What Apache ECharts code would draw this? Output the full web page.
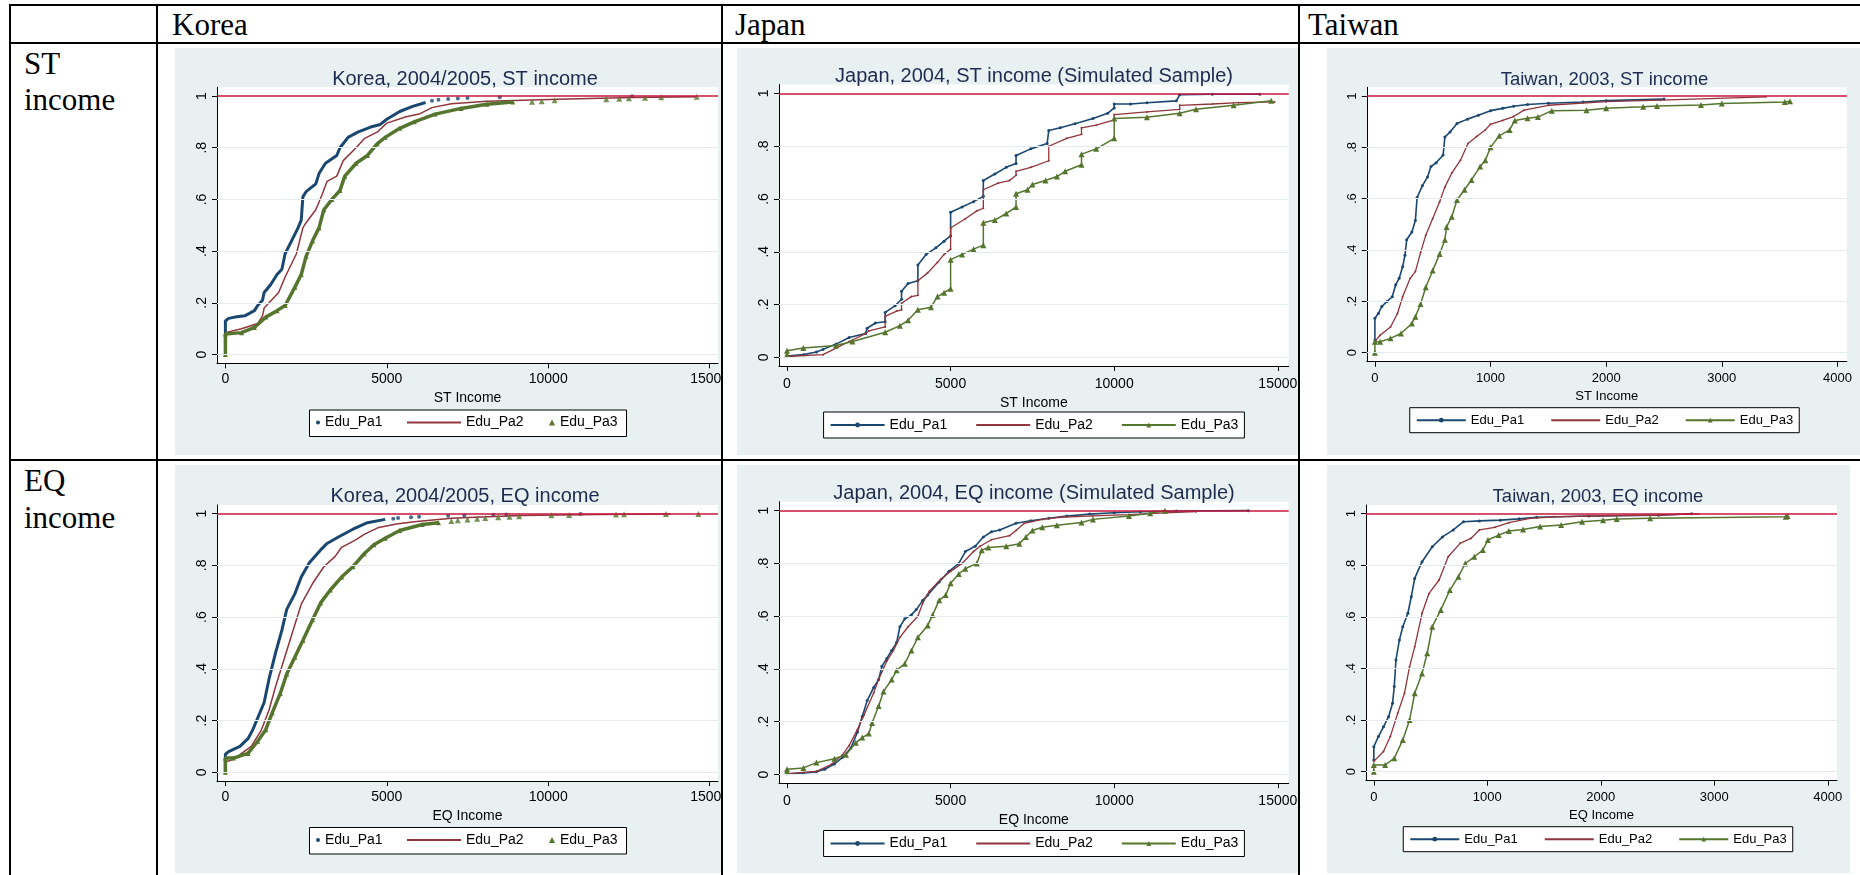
<!DOCTYPE html>
<html>
<head>
<meta charset="utf-8">
<title>Income CDF by parents' education</title>
<script src="https://cdn.jsdelivr.net/npm/echarts@6.0.0/dist/echarts.min.js"></script>
<style>
  html, body { margin: 0; padding: 0; background: #fff; }
  body { width: 1860px; height: 875px; position: relative; overflow: hidden; }
  .rule { position: absolute; background: #000; }
  .cell-text { position: absolute; font-family: 'Liberation Serif', 'Times New Roman', serif; font-size: 31px; line-height: 31px; color: #000; white-space: nowrap; }
  .clip { position: absolute; overflow: hidden; }
  .chart { position: absolute; left: 0; top: 0; }
</style>
</head>
<body>
<!-- table rules -->
<div class="rule" style="left:9px;top:4px;width:1851px;height:2px"></div>
<div class="rule" style="left:9px;top:42px;width:1851px;height:2px"></div>
<div class="rule" style="left:9px;top:459px;width:1851px;height:2px"></div>
<div class="rule" style="left:9px;top:4px;width:2px;height:871px"></div>
<div class="rule" style="left:156px;top:4px;width:2px;height:871px"></div>
<div class="rule" style="left:721px;top:4px;width:2px;height:871px"></div>
<div class="rule" style="left:1298px;top:4px;width:2px;height:871px"></div>

<div class="cell-text" style="left:172px;top:9px">Korea</div>
<div class="cell-text" style="left:735px;top:9px">Japan</div>
<div class="cell-text" style="left:1308px;top:9px">Taiwan</div>
<div class="cell-text" style="left:24px;top:48px">ST</div>
<div class="cell-text" style="left:24px;top:84px">income</div>
<div class="cell-text" style="left:24px;top:465px">EQ</div>
<div class="cell-text" style="left:24px;top:502px">income</div>

<div class="clip" style="left:175px;top:48px;width:546px;height:407px"><div id="kst" class="chart" style="width:580px;height:407px"></div></div>
<div class="clip" style="left:737px;top:48px;width:561px;height:407px"><div id="jst" class="chart" style="width:594px;height:407px"></div></div>
<div class="clip" style="left:1327px;top:48px;width:533px;height:407px"><div id="tst" class="chart" style="width:555px;height:407px"></div></div>
<div class="clip" style="left:175px;top:465px;width:546px;height:408px"><div id="keq" class="chart" style="width:580px;height:408px"></div></div>
<div class="clip" style="left:737px;top:465px;width:561px;height:408px"><div id="jeq" class="chart" style="width:594px;height:408px"></div></div>
<div class="clip" style="left:1327px;top:465px;width:523px;height:408px"><div id="teq" class="chart" style="width:542px;height:408px"></div></div>

<script>
// ---- data: [income, cumulative share] ----
const yTicks = [0, 0.2, 0.4, 0.6, 0.8, 1];
const xTicksWide = [0, 5000, 10000, 15000];
const xTicksTaiwan = [0, 1000, 2000, 3000, 4000];

// Korea, ST income (Pa1 / Pa3 are scatter: dense body + sparse tail)
const koreaStPa1 = [[0,0.08],[0,0.13],[100,0.14],[300,0.145],[600,0.15],[900,0.17],[1000,0.19],[1150,0.21],[1200,0.24],[1400,0.27],[1600,0.31],[1750,0.33],[1850,0.39],[2050,0.44],[2250,0.49],[2350,0.52],[2400,0.61],[2500,0.63],[2800,0.66],[2900,0.70],[3100,0.74],[3450,0.77],[3550,0.80],[3800,0.84],[4100,0.86],[4500,0.88],[4800,0.89],[5000,0.91],[5400,0.94],[5800,0.96],[6200,0.975]];
const koreaStPa1Tail = [[6400,0.982],[6600,0.985],[6900,0.988],[7200,0.99],[7500,0.992],[8500,0.995],[12600,0.999]];
const koreaStPa2 = [[0,0.07],[0,0.085],[500,0.1],[1000,0.12],[1150,0.15],[1200,0.18],[1650,0.24],[1850,0.30],[2200,0.39],[2400,0.49],[2500,0.51],[2800,0.56],[3000,0.62],[3150,0.67],[3450,0.69],[3650,0.75],[4050,0.80],[4300,0.835],[4700,0.86],[5000,0.895],[5600,0.92],[6000,0.93],[6400,0.955],[7000,0.97],[8100,0.98],[10300,0.987],[12600,0.994],[14600,0.997]];
const koreaStPa3 = [[0,0],[0,0.08],[500,0.085],[900,0.105],[1250,0.145],[1600,0.17],[1850,0.19],[2150,0.26],[2350,0.31],[2500,0.38],[2700,0.44],[2900,0.49],[3050,0.56],[3300,0.6],[3550,0.635],[3700,0.69],[4050,0.74],[4400,0.77],[4700,0.815],[4950,0.84],[5400,0.875],[5850,0.9],[6500,0.93],[7300,0.952],[8100,0.968],[8900,0.977]];
const koreaStPa3Tail = [[9500,0.978],[9800,0.98],[10200,0.984],[11800,0.987],[12200,0.989],[12500,0.991],[13000,0.993],[13500,0.995],[14600,0.997]];

// Korea, EQ income
const koreaEqPa1 = [[0,0],[0,0.07],[100,0.08],[450,0.1],[700,0.13],[850,0.165],[1000,0.21],[1200,0.27],[1350,0.36],[1550,0.46],[1750,0.55],[1900,0.63],[2150,0.69],[2350,0.755],[2600,0.81],[2950,0.86],[3150,0.885],[3500,0.91],[3950,0.94],[4400,0.965],[4950,0.978]];
const koreaEqPa1Tail = [[5200,0.98],[5350,0.983],[5750,0.986],[6000,0.988],[6900,0.992],[7400,0.994],[8300,0.996],[8700,0.997],[11000,0.999]];
const koreaEqPa2 = [[0,0.04],[0,0.045],[250,0.05],[800,0.1],[1100,0.16],[1350,0.24],[1550,0.33],[1850,0.45],[2100,0.55],[2350,0.65],[2700,0.73],[3050,0.795],[3400,0.835],[3600,0.87],[4050,0.9],[4300,0.92],[4750,0.947],[5300,0.96],[5850,0.969],[7000,0.982],[8100,0.988],[9200,0.993],[11500,0.997],[13800,0.999]];
const koreaEqPa3 = [[0,0],[0,0.055],[250,0.055],[700,0.073],[1000,0.12],[1250,0.165],[1450,0.23],[1700,0.305],[1900,0.38],[2150,0.445],[2400,0.51],[2700,0.59],[2950,0.655],[3250,0.705],[3600,0.755],[3950,0.795],[4300,0.845],[4600,0.88],[4950,0.905],[5400,0.935],[6100,0.958],[6600,0.965]];
const koreaEqPa3Tail = [[7000,0.972],[7200,0.975],[7500,0.978],[7800,0.98],[8050,0.983],[8450,0.986],[8800,0.988],[9100,0.99],[10100,0.994],[10650,0.995],[12100,0.997],[12350,0.998],[13650,0.999],[14650,0.999]];

// Japan, ST income (simulated sample)
const japanStPa1 = [[0,0.005],[500,0.01],[900,0.02],[1100,0.03],[1500,0.05],[1900,0.075],[2400,0.09],[2450,0.11],[2700,0.13],[3000,0.135],[3000,0.17],[3300,0.195],[3500,0.22],[3500,0.25],[3700,0.28],[4000,0.29],[4000,0.35],[4250,0.39],[4550,0.415],[4800,0.44],[5000,0.46],[5000,0.55],[5350,0.57],[5700,0.59],[6000,0.61],[6000,0.67],[6350,0.695],[6700,0.72],[7000,0.735],[7000,0.765],[7450,0.79],[7950,0.81],[8000,0.86],[8350,0.87],[8800,0.885],[9350,0.905],[9800,0.925],[10000,0.945],[10000,0.96],[10500,0.96],[11000,0.965],[11900,0.972],[12000,0.995],[13000,0.997],[14450,0.997]];
const japanStPa2 = [[0,0.003],[1100,0.01],[1500,0.035],[1900,0.06],[2400,0.09],[2500,0.1],[3000,0.115],[3000,0.155],[3350,0.175],[3500,0.18],[3500,0.205],[3800,0.23],[4000,0.235],[4000,0.29],[4300,0.32],[4600,0.36],[4800,0.39],[5000,0.41],[5000,0.49],[5450,0.525],[5800,0.555],[6000,0.565],[6000,0.635],[6450,0.66],[6800,0.67],[7000,0.69],[7000,0.705],[7450,0.72],[8000,0.745],[8000,0.8],[8550,0.83],[9000,0.845],[9000,0.87],[9450,0.88],[10000,0.9],[10000,0.92],[11000,0.93],[12000,0.94],[12000,0.955],[13000,0.96],[13800,0.965],[14900,0.968]];
const japanStPa3 = [[0,0.01],[0,0.025],[500,0.035],[1500,0.045],[2000,0.06],[3000,0.095],[3450,0.12],[3700,0.14],[4000,0.18],[4400,0.19],[4600,0.23],[4800,0.245],[5000,0.26],[5000,0.37],[5350,0.39],[5700,0.41],[6000,0.425],[6000,0.51],[6350,0.52],[6700,0.545],[7000,0.57],[7000,0.62],[7350,0.635],[7500,0.655],[7900,0.67],[8250,0.685],[8500,0.705],[9000,0.73],[9000,0.77],[9450,0.79],[10000,0.83],[10000,0.905],[11000,0.91],[12000,0.925],[12500,0.94],[13650,0.955],[14800,0.972]];

// Japan, EQ income (simulated sample)
const japanEqPa1 = [[0,0.003],[500,0.006],[900,0.01],[1150,0.02],[1450,0.04],[1700,0.065],[1950,0.1],[2150,0.16],[2300,0.22],[2450,0.28],[2650,0.33],[2800,0.36],[2900,0.41],[3050,0.44],[3200,0.47],[3350,0.5],[3450,0.56],[3600,0.59],[3800,0.605],[3950,0.625],[4150,0.66],[4300,0.68],[4650,0.73],[4950,0.77],[5250,0.8],[5450,0.845],[5750,0.865],[6000,0.9],[6250,0.92],[6500,0.927],[7000,0.952],[7450,0.962],[8000,0.971],[8550,0.98],[9250,0.987],[10000,0.992],[10800,0.996],[11900,0.999],[14100,1.0]];
const japanEqPa2 = [[0,0.002],[900,0.012],[1350,0.038],[1700,0.075],[1900,0.11],[2150,0.17],[2350,0.225],[2650,0.31],[2800,0.36],[3050,0.43],[3250,0.47],[3450,0.52],[3700,0.56],[4000,0.6],[4150,0.65],[4350,0.695],[4700,0.74],[5000,0.77],[5350,0.8],[5700,0.845],[5900,0.865],[6250,0.89],[6800,0.905],[7000,0.925],[7250,0.952],[7800,0.967],[8350,0.975],[9350,0.98],[10450,0.985],[11550,0.992],[12500,0.996]];
const japanEqPa3 = [[0,0.01],[0,0.02],[500,0.025],[900,0.045],[1450,0.06],[1800,0.075],[2100,0.12],[2300,0.14],[2500,0.155],[2600,0.195],[2800,0.26],[2950,0.315],[3200,0.36],[3350,0.395],[3600,0.42],[3800,0.47],[4000,0.52],[4300,0.565],[4450,0.605],[4650,0.66],[4850,0.68],[5000,0.725],[5250,0.76],[5450,0.78],[5800,0.8],[5950,0.85],[6150,0.86],[6700,0.865],[7100,0.875],[7300,0.9],[7500,0.925],[7800,0.937],[8250,0.945],[9000,0.955],[9350,0.967],[10450,0.98],[11100,0.99],[11550,1.0]];

// Taiwan, ST income
const taiwanStPa1 = [[0,0.05],[0,0.134],[30,0.153],[60,0.18],[105,0.2],[150,0.218],[180,0.265],[210,0.29],[240,0.335],[260,0.38],[275,0.44],[320,0.47],[350,0.515],[365,0.605],[410,0.65],[455,0.685],[485,0.725],[530,0.74],[590,0.77],[605,0.84],[650,0.86],[710,0.893],[800,0.91],[895,0.925],[1000,0.943],[1105,0.952],[1200,0.96],[1320,0.967],[1500,0.972],[1800,0.977],[2000,0.982],[2500,0.988]];
const taiwanStPa2 = [[0,0.043],[45,0.068],[135,0.1],[195,0.153],[240,0.218],[305,0.29],[350,0.316],[395,0.39],[440,0.458],[500,0.523],[560,0.588],[605,0.645],[665,0.7],[740,0.75],[805,0.815],[880,0.842],[955,0.868],[1000,0.89],[1105,0.905],[1200,0.92],[1290,0.945],[1500,0.964],[2000,0.978],[2470,0.984],[3380,0.997]];
const taiwanStPa3 = [[0,0],[0,0.043],[45,0.043],[135,0.056],[225,0.075],[320,0.114],[350,0.14],[395,0.19],[440,0.255],[500,0.32],[560,0.385],[605,0.44],[620,0.49],[665,0.53],[710,0.595],[775,0.635],[835,0.673],[910,0.725],[955,0.75],[1000,0.8],[1075,0.845],[1165,0.868],[1210,0.905],[1320,0.913],[1410,0.918],[1530,0.943],[1830,0.945],[2000,0.952],[2320,0.958],[2440,0.961],[2820,0.965],[3000,0.971],[3545,0.977],[3590,0.98]];

// Taiwan, EQ income
const taiwanEqPa1 = [[0,0.045],[0,0.097],[40,0.136],[85,0.174],[130,0.213],[165,0.265],[180,0.33],[195,0.433],[225,0.51],[255,0.562],[300,0.614],[330,0.678],[360,0.749],[425,0.814],[515,0.872],[605,0.91],[700,0.937],[790,0.969],[930,0.972],[1115,0.975],[1280,0.98],[1435,0.986],[1895,0.991],[2510,0.994],[2800,1.0]];
const taiwanEqPa2 = [[0,0.04],[85,0.078],[145,0.136],[210,0.226],[270,0.304],[315,0.407],[360,0.484],[425,0.614],[485,0.69],[575,0.743],[655,0.833],[760,0.885],[855,0.904],[930,0.937],[1065,0.947],[1190,0.965],[1375,0.982],[1590,0.988],[1895,0.991],[2510,0.995],[2860,0.999]];
const taiwanEqPa3 = [[0,0],[0,0.026],[100,0.026],[180,0.052],[255,0.123],[315,0.2],[360,0.304],[425,0.381],[470,0.459],[515,0.562],[590,0.627],[670,0.704],[745,0.756],[805,0.807],[885,0.833],[960,0.859],[1005,0.898],[1100,0.917],[1190,0.933],[1315,0.939],[1465,0.95],[1650,0.956],[1835,0.969],[2020,0.975],[2140,0.979],[2435,0.982],[3630,0.988],[3645,0.991]];

// ---- styling ----
const NAVY = '#1a476f', MAROON = '#90353b', GREEN = '#55752f';
const BG = '#e8f0f2', GRIDLINE = '#e3ebee', REFLINE = '#c8173d', TITLE = '#1c2b4e';
const SANS = "'Liberation Sans', Arial, sans-serif";

const fmtY = v => v === 0 ? '0' : v === 1 ? '1' : String(v).replace(/^0/, '');
const fmtX = v => String(v);

// korea: scatter style (dots / line / triangles), others: connected lines with markers
function koreaSeries(pa1, pa1Tail, pa2, pa3, pa3Tail) {
  return [
    { name: 'Edu_Pa1', type: 'line', data: pa1, symbol: 'none', color: NAVY, lineStyle: { width: 3, color: NAVY }, z: 2 },
    { name: 'Edu_Pa1', type: 'scatter', data: pa1Tail, symbol: 'circle', symbolSize: 4, itemStyle: { color: NAVY }, z: 2 },
    { name: 'Edu_Pa2', type: 'line', data: pa2, symbol: 'none', color: MAROON, lineStyle: { width: 1.5, color: MAROON }, z: 3 },
    { name: 'Edu_Pa3', type: 'line', data: pa3, symbol: 'triangle', symbolSize: 5, color: GREEN, itemStyle: { color: GREEN }, lineStyle: { width: 3.5, color: GREEN }, z: 4 },
    { name: 'Edu_Pa3', type: 'scatter', data: pa3Tail, symbol: 'triangle', symbolSize: 6, itemStyle: { color: GREEN }, z: 4 }
  ];
}
function lineSeries(pa1, pa2, pa3) {
  return [
    { name: 'Edu_Pa1', type: 'line', data: pa1, symbol: 'circle', symbolSize: 3, color: NAVY, itemStyle: { color: NAVY }, lineStyle: { width: 1.6, color: NAVY }, z: 2 },
    { name: 'Edu_Pa2', type: 'line', data: pa2, symbol: 'circle', symbolSize: 2, color: MAROON, itemStyle: { color: MAROON }, lineStyle: { width: 1.3, color: MAROON }, z: 3 },
    { name: 'Edu_Pa3', type: 'line', data: pa3, symbol: 'triangle', symbolSize: 6, color: GREEN, itemStyle: { color: GREEN }, lineStyle: { width: 1.5, color: GREEN }, z: 4 }
  ];
}

function koreaLegend(top, fs) {
  const base = { orient: 'horizontal', padding: 0, selectedMode: false, top: top,
    textStyle: { fontFamily: SANS, fontSize: fs, color: '#000' } };
  return [
    Object.assign({}, base, { left: 141, itemWidth: 4, itemHeight: 4, data: [{ name: 'Edu_Pa1', icon: 'circle' }] }),
    Object.assign({}, base, { left: 231, itemWidth: 54, itemHeight: 6, data: [{ name: 'Edu_Pa2', itemStyle: { opacity: 0 } }] }),
    Object.assign({}, base, { left: 374, itemWidth: 6, itemHeight: 6, data: [{ name: 'Edu_Pa3', icon: 'triangle' }] })
  ];
}
function boxLegend(top, fs, iw, gap) {
  return {
    left: 'center', top: top, orient: 'horizontal', selectedMode: false,
    padding: [6, 6], itemGap: gap, itemWidth: iw, itemHeight: 6,
    backgroundColor: '#fff', borderColor: '#000', borderWidth: 1,
    textStyle: { fontFamily: SANS, fontSize: fs, color: '#000' },
    data: [{ name: 'Edu_Pa1' }, { name: 'Edu_Pa2', itemStyle: { opacity: 0 } }, { name: 'Edu_Pa3' }]
  };
}

// 重置option: one Stata-like cdf panel
function buildOption(p) {
  const refSeries = {
    type: 'line', data: [], silent: true, z: 1,
    markLine: {
      silent: true, symbol: 'none', animation: false, label: { show: false },
      data: yTicks.slice(0, 5).map(v => ({ yAxis: v, lineStyle: { color: GRIDLINE, width: 1, type: 'solid' } }))
        .concat([{ yAxis: 1, lineStyle: { color: REFLINE, width: 1.5, type: 'solid' } }])
    }
  };
  return {
    animation: false,
    backgroundColor: BG,
    title: { text: p.title, left: 'center', top: p.titleTop,
      textStyle: { fontFamily: SANS, fontSize: p.titleSize, fontWeight: 'normal', color: TITLE } },
    grid: Object.assign({ show: true, backgroundColor: '#fff', borderWidth: 0, containLabel: false }, p.grid),
    legend: p.legend,
    graphic: p.box ? [{ type: 'rect', left: p.box[0], top: p.box[1], shape: { width: p.box[2], height: p.box[3] },
      style: { fill: '#fff', stroke: '#000', lineWidth: 1 }, z: 1 }] : [],
    xAxis: {
      type: 'value', min: p.xMin, max: p.xMax,
      name: p.xName, nameLocation: 'middle', nameGap: p.nameGap,
      nameTextStyle: { fontFamily: SANS, fontSize: p.fontSize, color: '#000' },
      axisLine: { show: true, onZero: false, lineStyle: { color: '#000', width: 1 } },
      axisTick: { show: true, customValues: p.xTicks, length: 5, lineStyle: { color: '#000' } },
      axisLabel: { customValues: p.xTicks, formatter: fmtX, margin: p.labelMargin, fontFamily: SANS, fontSize: p.fontSize, color: '#000' },
      splitLine: { show: false }
    },
    yAxis: {
      type: 'value', min: p.yMin, max: p.yMax,
      axisLine: { show: true, onZero: false, lineStyle: { color: '#000', width: 1 } },
      axisTick: { show: true, customValues: yTicks, length: 5, lineStyle: { color: '#000' } },
      axisLabel: { customValues: yTicks, rotate: 90, margin: 8, formatter: fmtY, fontFamily: SANS, fontSize: p.fontSize, color: '#000' },
      splitLine: { show: false }
    },
    series: [refSeries].concat(p.series)
  };
}

const panels = [
  { el: 'kst', title: 'Korea, 2004/2005, ST income', xName: 'ST Income', titleTop: 16, titleSize: 20, fontSize: 14,
    grid: { left: 42, top: 39.3, width: 501, height: 276 }, xMin: -260, xMax: 15260, yMin: -0.0336, yMax: 1.0336,
    xTicks: xTicksWide, labelMargin: 9, nameGap: 23, legend: koreaLegend(367.5, 14), box: [134, 361.5, 317, 26.5],
    series: koreaSeries(koreaStPa1, koreaStPa1Tail, koreaStPa2, koreaStPa3, koreaStPa3Tail) },
  { el: 'keq', title: 'Korea, 2004/2005, EQ income', xName: 'EQ Income', titleTop: 16.5, titleSize: 20, fontSize: 14,
    grid: { left: 42, top: 40, width: 501, height: 276 }, xMin: -260, xMax: 15260, yMin: -0.0336, yMax: 1.0336,
    xTicks: xTicksWide, labelMargin: 9, nameGap: 23, legend: koreaLegend(368, 14), box: [134, 362, 317, 26.5],
    series: koreaSeries(koreaEqPa1, koreaEqPa1Tail, koreaEqPa2, koreaEqPa3, koreaEqPa3Tail) },
  { el: 'jst', title: 'Japan, 2004, ST income (Simulated Sample)', xName: 'ST Income', titleTop: 13, titleSize: 20, fontSize: 14,
    grid: { left: 42, top: 36.5, width: 509.7, height: 281.5 }, xMin: -245, xMax: 15333, yMin: -0.033, yMax: 1.034,
    xTicks: xTicksWide, labelMargin: 11, nameGap: 24.5, legend: boxLegend(364, 14, 54, 28),
    series: lineSeries(japanStPa1, japanStPa2, japanStPa3) },
  { el: 'jeq', title: 'Japan, 2004, EQ income (Simulated Sample)', xName: 'EQ Income', titleTop: 13.5, titleSize: 20, fontSize: 14,
    grid: { left: 42, top: 36.7, width: 509.7, height: 281.5 }, xMin: -245, xMax: 15333, yMin: -0.033, yMax: 1.034,
    xTicks: xTicksWide, labelMargin: 11, nameGap: 24.5, legend: boxLegend(365.5, 14, 54, 28),
    series: lineSeries(japanEqPa1, japanEqPa2, japanEqPa3) },
  { el: 'tst', title: 'Taiwan, 2003, ST income', xName: 'ST Income', titleTop: 17, titleSize: 18.5, fontSize: 13,
    grid: { left: 39.8, top: 39.3, width: 480, height: 274.4 }, xMin: -70, xMax: 4081, yMin: -0.035, yMax: 1.034,
    xTicks: xTicksTaiwan, labelMargin: 10, nameGap: 23, legend: boxLegend(359.7, 13, 49, 26),
    series: lineSeries(taiwanStPa1, taiwanStPa2, taiwanStPa3) },
  { el: 'teq', title: 'Taiwan, 2003, EQ income', xName: 'EQ Income', titleTop: 17.5, titleSize: 18.5, fontSize: 13,
    grid: { left: 39, top: 40, width: 471, height: 275.7 }, xMin: -69, xMax: 4081, yMin: -0.035, yMax: 1.0337,
    xTicks: xTicksTaiwan, labelMargin: 10, nameGap: 24, legend: boxLegend(361.7, 13, 49, 26),
    series: lineSeries(taiwanEqPa1, taiwanEqPa2, taiwanEqPa3) }
];

panels.forEach(p => {
  const myChart = echarts.init(document.getElementById(p.el));
  myChart.setOption(buildOption(p));
});
</script>
</body>
</html>
